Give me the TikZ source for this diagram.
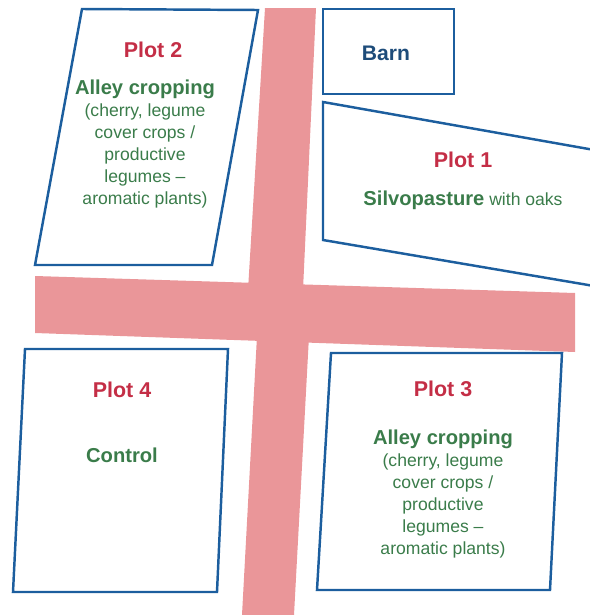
\documentclass[tikz,border=0pt]{standalone}
\usepackage{fontspec}
\setmainfont{Liberation Sans}
\usepackage{xcolor}
\usepackage{tikz}
\usetikzlibrary{positioning}
\definecolor{roadred}{RGB}{234,150,153}
\definecolor{plotblue}{RGB}{28,94,158}
\definecolor{barnblue}{RGB}{30,76,122}
\definecolor{plotred}{RGB}{196,46,70}
\definecolor{cropgreen}{RGB}{58,124,74}
\begin{document}
\begin{tikzpicture}[x=0.03cm, y=-0.03cm,
    road/.style={fill=roadred, draw=none},
    plotframe/.style={draw=plotblue, line width=2.1pt, line join=miter},
    plotname/.style={inner sep=0pt, text=plotred, font=\fontsize{18.3}{21}\selectfont\bfseries},
    usetext/.style={inner sep=0pt, anchor=north, align=center, text=cropgreen,
        font=\fontsize{15}{18.7}\selectfont}]
    \useasboundingbox (0,0) rectangle (590,615);
    % Wege
    \fill[road] (265,8) -- (316,8) -- (303,290) -- (248,290) -- cycle;
    \fill[road] (35,276) -- (575,293) -- (575,352) -- (35,333) -- cycle;
    \fill[road] (257,336) -- (309,336) -- (294,615) -- (242,615) -- cycle;
    % Flaechen
    \draw[plotframe] (82,9) -- (258,10) -- (212,265) -- (35,265) -- cycle;
    \draw[plotframe] (323,9) rectangle (454,94);
    \draw[plotframe] (600,151) -- (323,102) -- (323,240) -- (600,287);
    \draw[plotframe] (25,349) -- (228,349) -- (217,592) -- (13,592) -- cycle;
    \draw[plotframe] (331,353) -- (562,353) -- (550,590) -- (317,590) -- cycle;
    % Beschriftung
    \node[inner sep=0pt, text=barnblue, font=\fontsize{18}{21}\selectfont\bfseries] (barn) at (386,53) {Barn};
    \node[plotname] (plot1) at (463,160) {Plot 1};
    \node[inner sep=0pt, text=cropgreen, font=\fontsize{15}{18}\selectfont] (use1) at (463,200)
        {{\fontsize{17.2}{20}\selectfont\bfseries Silvopasture} with oaks};
    \node[plotname] (plot2) at (153,50) {Plot 2};
    \node[usetext] (use2) at (145,80)
        {{\fontsize{17.2}{20}\selectfont\bfseries Alley cropping}\\(cherry, legume\\cover crops /\\productive\\legumes --\\aromatic plants)};
    \node[plotname] (plot3) at (443,389) {Plot 3};
    \node[usetext] (use3) at (443,430)
        {{\fontsize{17.2}{20}\selectfont\bfseries Alley cropping}\\(cherry, legume\\cover crops /\\productive\\legumes --\\aromatic plants)};
    \node[plotname] (plot4) at (122,390) {Plot 4};
    \node[inner sep=0pt, text=cropgreen, font=\fontsize{17.2}{20}\selectfont\bfseries] (use4) at (122,455) {Control};
\end{tikzpicture}
\end{document}
